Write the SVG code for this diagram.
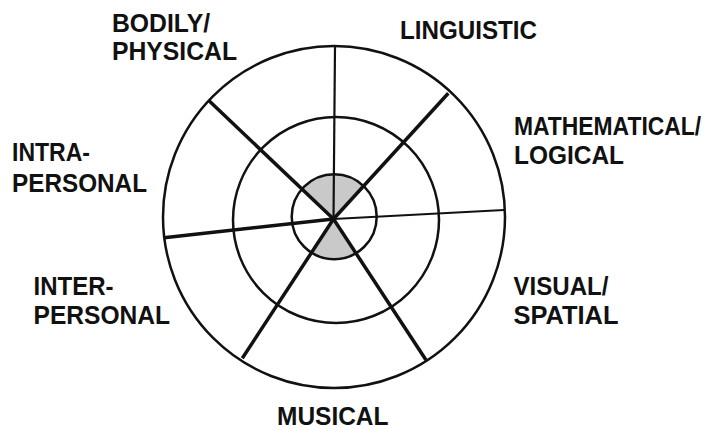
<svg xmlns="http://www.w3.org/2000/svg" width="721" height="430" viewBox="0 0 721 430">
  <style>
    .lbl { font-family: "Liberation Sans", Arial, Helvetica, sans-serif; font-weight: bold; font-size: 26px; fill: #111; }
    .ring { fill: none; stroke: #111; stroke-width: 2.5; }
    .spoke { stroke: #111; stroke-width: 3.5; stroke-linecap: butt; }
    .spoke-thin { stroke: #111; stroke-width: 2.2; }
    .shade { fill: #c9c9c9; stroke: none; }
  </style>
  <rect x="0" y="0" width="721" height="430" fill="#ffffff"/>

  <g id="wheel">
    <path class="shade" d="M 333.5 219 L 301.95 189 A 42.5 42.5 0 0 1 363.6 186 Z"/>
    <path class="shade" d="M 333.5 219 L 355.95 253.2 A 42.5 42.5 0 0 1 311.5 252.6 Z"/>
    <circle class="ring" cx="334" cy="217" r="171"/>
    <circle class="ring" cx="336" cy="220" r="103"/>
    <circle class="ring" cx="334.2" cy="216.7" r="42.5"/>
  </g>

  <g id="connectors">
    <line class="spoke-thin" x1="333.5" y1="219" x2="335" y2="46"/>
    <line class="spoke" x1="333.5" y1="219" x2="448.3" y2="93.3"/>
    <line class="spoke-thin" x1="333.5" y1="219" x2="504" y2="210"/>
    <line class="spoke" x1="333.5" y1="219" x2="426" y2="360"/>
    <line class="spoke" x1="333.5" y1="219" x2="242.3" y2="358.3"/>
    <line class="spoke" x1="333.5" y1="219" x2="164" y2="237.7"/>
    <line class="spoke" x1="333.5" y1="219" x2="209.3" y2="101"/>
  </g>

  <g id="bodily">
    <text class="lbl" x="112" y="31.5" textLength="98" lengthAdjust="spacingAndGlyphs">BODILY/</text>
    <text class="lbl" x="112" y="60" textLength="125" lengthAdjust="spacingAndGlyphs">PHYSICAL</text>
  </g>
  <g id="linguistic">
    <text class="lbl" x="400" y="38.5" textLength="137" lengthAdjust="spacingAndGlyphs">LINGUISTIC</text>
  </g>
  <g id="mathematical">
    <text class="lbl" transform="translate(514 135) scale(0.88 1)">MATHEMATICAL/</text>
    <text class="lbl" x="514" y="163.5" textLength="110" lengthAdjust="spacingAndGlyphs">LOGICAL</text>
  </g>
  <g id="intrapersonal">
    <text class="lbl" x="12" y="161" textLength="78" lengthAdjust="spacingAndGlyphs">INTRA-</text>
    <text class="lbl" x="12" y="191.5" textLength="135" lengthAdjust="spacingAndGlyphs">PERSONAL</text>
  </g>
  <g id="interpersonal">
    <text class="lbl" x="33.5" y="295" textLength="80" lengthAdjust="spacingAndGlyphs">INTER-</text>
    <text class="lbl" x="33.5" y="324" textLength="136.5" lengthAdjust="spacingAndGlyphs">PERSONAL</text>
  </g>
  <g id="visual">
    <text class="lbl" x="513.5" y="295" textLength="95" lengthAdjust="spacingAndGlyphs">VISUAL/</text>
    <text class="lbl" x="513.5" y="323.5" textLength="105" lengthAdjust="spacingAndGlyphs">SPATIAL</text>
  </g>
  <g id="musical">
    <text class="lbl" x="277" y="425" textLength="111.5" lengthAdjust="spacingAndGlyphs">MUSICAL</text>
  </g>
</svg>
